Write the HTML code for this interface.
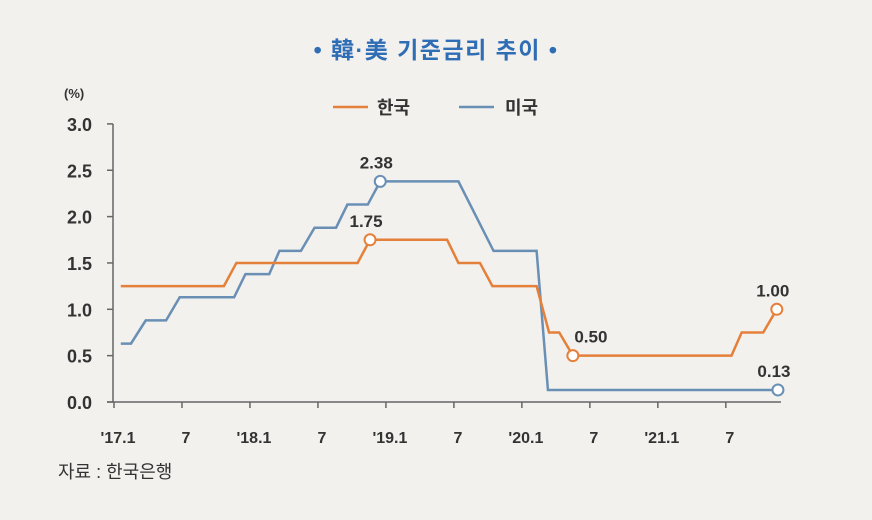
<!DOCTYPE html>
<html><head><meta charset="utf-8">
<style>
html,body{margin:0;padding:0;background:#f2f1ee;}
svg{display:block;}
text{font-family:"Liberation Sans","Noto Sans CJK KR",sans-serif;}
</style></head>
<body>
<svg width="872" height="520" viewBox="0 0 872 520">
<rect width="872" height="520" fill="#f2f1ee"/>
<text x="436" y="58" text-anchor="middle" font-size="23" font-weight="bold" letter-spacing="1.5" fill="#2f6db5">•  韓·美 기준금리 추이  •</text>
<text x="64" y="98" font-size="13" font-weight="bold" fill="#333">(%)</text>
<g>
<line x1="333" y1="107" x2="368" y2="107" stroke="#e5803a" stroke-width="2.5"/>
<text x="377" y="114" font-size="18" font-weight="bold" fill="#333">한국</text>
<line x1="459" y1="107" x2="494" y2="107" stroke="#6a8fb5" stroke-width="2.5"/>
<text x="505" y="114" font-size="18" font-weight="bold" fill="#333">미국</text>
</g>
<g id="axes"></g>
<g id="series"></g>
<text x="58" y="478" font-size="18" fill="#333">자료 : 한국은행</text>
</svg>
<script>
const yTicks=[0,0.5,1.0,1.5,2.0,2.5,3.0];
const xTickPos=[0,6,12,18,24,30,36,42,48,54];
const xTickLabels=["'17.1","7","'18.1","7","'19.1","7","'20.1","7","'21.1","7"];
const krT=[0.6,9.7,10.8,21.5,22.6,29.4,30.4,32.3,33.4,37.3,38.4,39.3,40.5,54.5,55.4,57.3,58.5];
const krV=[1.25,1.25,1.5,1.5,1.75,1.75,1.5,1.5,1.25,1.25,0.75,0.75,0.5,0.5,0.75,0.75,1.0];
const usT=[0.6,1.5,2.8,4.6,5.8,10.6,11.6,13.7,14.6,16.5,17.7,19.6,20.6,22.4,23.5,30.4,33.5,37.3,38.3,58.6];
const usV=[0.63,0.63,0.88,0.88,1.13,1.13,1.38,1.38,1.63,1.63,1.88,1.88,2.13,2.13,2.38,2.38,1.63,1.63,0.13,0.13];
const krMarks=[[22.6,1.75,"1.75"],[40.5,0.5,"0.50"],[58.5,1.0,"1.00"]];
const usMarks=[[23.5,2.38,"2.38"],[58.6,0.13,"0.13"]];
const NS="http://www.w3.org/2000/svg";
const x=t=>114+t*11.33;
const y=v=>402-v*92.7;
function mk(tag,attrs,parent){const e=document.createElementNS(NS,tag);for(const k in attrs)e.setAttribute(k,attrs[k]);parent.appendChild(e);return e;}
const axes=document.getElementById('axes'),series=document.getElementById('series');
let a=mk('line',{x1:113,y1:y(3),x2:113,y2:402,stroke:'#666','stroke-width':1.5},axes);


a=mk('line',{x1:107,y1:402,x2:781,y2:402,stroke:'#666','stroke-width':1.5},axes);


yTicks.forEach(v=>{
 const tk=mk('line',{x1:107,y1:y(v),x2:113,y2:y(v),stroke:'#666','stroke-width':1.5},axes);
 
 
 const t=mk('text',{x:92,y:y(v)+7,'text-anchor':'end','font-size':18,'font-weight':'bold',fill:'#333'},axes);
 t.textContent=v.toFixed(1);
 
 
});
xTickPos.forEach((m,i)=>{
 const tk=mk('line',{x1:x(m),y1:402,x2:x(m),y2:408,stroke:'#666','stroke-width':1.5},axes);
 
 
 const t=mk('text',{x:x(m)+4,y:443,'text-anchor':'middle','font-size':16,'font-weight':'bold',fill:'#333'},axes);
 t.textContent=xTickLabels[i];
 
 
});
function line(T,V,color,name){
 const p=mk('polyline',{points:T.map((t,i)=>x(t)+','+y(V[i])).join(' '),fill:'none',stroke:color,'stroke-width':2.5,'stroke-linejoin':'miter'},series);
 
 
}
line(usT,usV,'#6a8fb5','us-rate-line');
line(krT,krV,'#e5803a','korea-rate-line');
function marks(M,color,name){
 M.forEach(m=>{
  const c=mk('circle',{cx:x(m[0]),cy:y(m[1]),r:5.5,fill:'#fff',stroke:color,'stroke-width':2},series);
  
  
  const t=mk('text',{x:x(m[0])+(m[0]>40&&m[0]<50?18:-4),y:y(m[1])-13,'text-anchor':'middle','font-size':17,'font-weight':'bold',fill:'#333'},series);
  t.textContent=m[2];
  
  
 });
}
marks(usMarks,'#6a8fb5','us');
marks(krMarks,'#e5803a','korea');
</script>
</body></html>
